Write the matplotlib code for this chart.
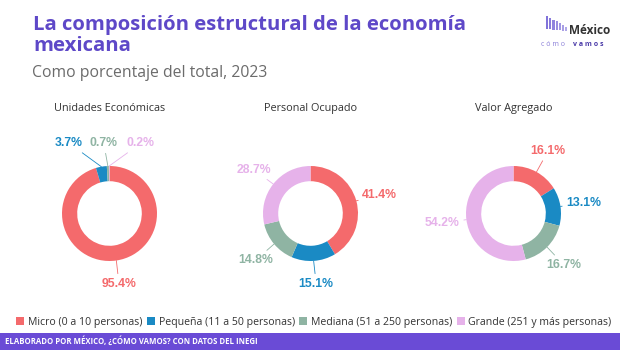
import numpy as np
import matplotlib.pyplot as plt
from matplotlib.patches import Rectangle

categories = ["Micro (0 a 10 personas)", "Pequeña (11 a 50 personas)",
              "Mediana (51 a 250 personas)", "Grande (251 y más personas)"]
colors = ["#F46A6C", "#1A8AC4", "#8FB4A3", "#E6B2EA"]

chart_titles = ["Unidades Económicas", "Personal Ocupado", "Valor Agregado"]
unidades = [95.4, 3.7, 0.7, 0.2]
personal = [41.4, 15.1, 14.8, 28.7]
valor = [16.1, 13.1, 16.7, 54.2]
series = [unidades, personal, valor]

# label placement (axes data units, ring radius = 1)
label_pos = [
    [(0.2, -1.48), (-0.85, 1.48), (-0.12, 1.48), (0.66, 1.48)],
    [(1.46, 0.39), (0.12, -1.48), (-1.15, -0.98), (-1.19, 0.92)],
    [(0.73, 1.32), (1.48, 0.22), (1.06, -1.08), (-1.5, -0.2)],
]

W, H = 620, 354
fig = plt.figure(figsize=(W / 100, H / 100), dpi=100)
fig.patch.set_facecolor("white")

def fx(px):
    return px / W

def fy(py):
    return 1 - py / H

purple = "#5E48C8"

# title block
fig.text(fx(33), fy(30), "La composición estructural de la economía", fontsize=14.6,
         fontweight="bold", color=purple, family="Open Sans", va="baseline")
fig.text(fx(33), fy(51), "mexicana", fontsize=14.6,
         fontweight="bold", color=purple, family="Open Sans", va="baseline")
fig.text(fx(32), fy(77), "Como porcentaje del total, 2023", fontsize=11.3,
         color="#6b6b6b", family="Open Sans", va="baseline")

# logo
bar_h = [13, 11.5, 10, 8.5, 7, 5.5, 4]
for i, h in enumerate(bar_h):
    x0 = 546 + i * 3.2
    top = 16 + i * 1.8
    fig.patches.append(Rectangle((fx(x0), fy(top + h)), fx(2.2), h / H,
                                 transform=fig.transFigure, color="#7A6BD8",
                                 alpha=0.95 - i * 0.06, lw=0))
fig.text(fx(569), fy(34), "México", fontsize=8.5, fontweight="bold", color="#333333",
         family="Open Sans", va="baseline")
fig.text(fx(541), fy(46), "c ó m o", fontsize=5, color="#8a7fd8", family="Open Sans",
         va="baseline")
fig.text(fx(573), fy(46), "v a m o s", fontsize=5, fontweight="bold", color="#4a3aa8",
         family="Open Sans", va="baseline")

centers = [109.5, 310.5, 513.5]
cy = 213.5
R = 47.5
half = 1.6
wedges_all = None
for k, vals in enumerate(series):
    size = 2 * R * half
    ax = fig.add_axes([fx(centers[k] - R * half), fy(cy + R * half), size / W, size / H])
    wedges, _ = ax.pie(vals, colors=colors, startangle=90, counterclock=False,
                       radius=1, wedgeprops=dict(width=0.32, linewidth=0))
    if wedges_all is None:
        wedges_all = wedges
    ax.set_xlim(-half, half)
    ax.set_ylim(-half, half)
    ax.set_aspect("equal")
    ax.axis("off")
    for i, w in enumerate(wedges):
        mid = np.deg2rad((w.theta1 + w.theta2) / 2)
        xy = (np.cos(mid), np.sin(mid))
        ax.annotate(f"{vals[i]:.1f}%", xy=xy, xytext=label_pos[k][i],
                    ha="center", va="center", fontsize=8.8, fontweight="bold",
                    color=colors[i], family="Liberation Sans", annotation_clip=False,
                    arrowprops=dict(arrowstyle="-", color=colors[i], lw=0.6,
                                    shrinkA=1, shrinkB=0))
    fig.text(fx(centers[k]), fy(108), chart_titles[k], ha="center", va="center",
             fontsize=7.8, color="#333333", family="Open Sans")

leg = fig.legend(wedges_all, categories, loc="center", bbox_to_anchor=(fx(314), fy(322)),
                 ncol=4, frameon=False, handlelength=0.75, handleheight=0.75,
                 handletextpad=0.35, columnspacing=0.45, borderpad=0,
                 prop=dict(family="Open Sans", size=7.55))
for t in leg.get_texts():
    t.set_color("#333333")

# footer
fig.patches.append(Rectangle((0, fy(350)), 1, 17 / H, transform=fig.transFigure,
                             color="#6A4BD6", lw=0))
fig.text(fx(5), fy(341.5), "ELABORADO POR MÉXICO, ¿CÓMO VAMOS? CON DATOS DEL INEGI",
         fontsize=5.6, fontweight="bold", color="white", family="Open Sans", va="center")

fig.savefig("out.png", dpi=100)
